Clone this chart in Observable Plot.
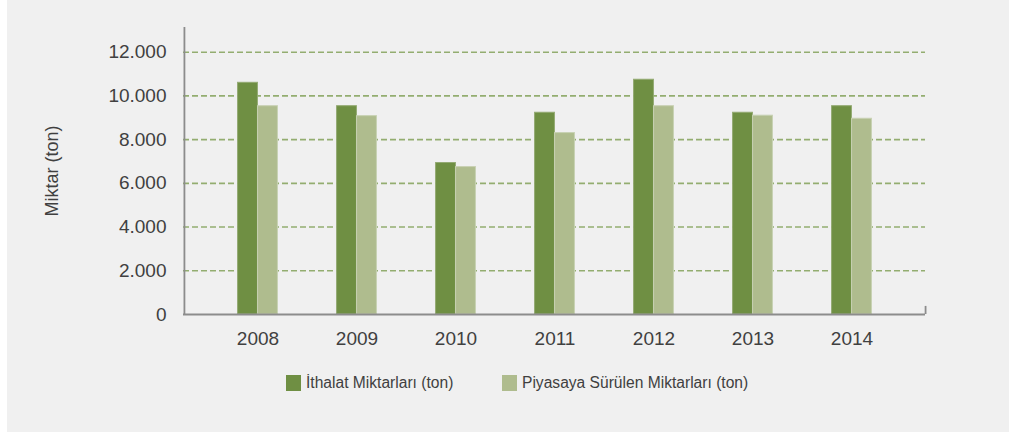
<!DOCTYPE html>
<html>
<head>
<meta charset="utf-8">
<script src="https://cdn.jsdelivr.net/npm/d3@7"></script>
<script src="https://cdn.jsdelivr.net/npm/@observablehq/plot@0.6"></script>
<style>
  html, body { margin: 0; padding: 0; background: #ffffff; }
  #panel { position: absolute; left: 7px; top: 0; width: 1002px; height: 432px; background: #f0f0f0; font-family: "Liberation Sans", Arial, sans-serif; }
  #chart { position: absolute; left: 0; top: 0; }
  .legend-item { position: absolute; top: 374px; display: flex; align-items: center; font-size: 15.6px; color: #404040; line-height: 18px; }
  .swatch { width: 15px; height: 16px; margin-right: 5px; }
</style>
</head>
<body>
<div id="panel">
  <div id="chart"></div>
  <div id="legend"></div>
</div>
<script>
// ---- data ----
const years = ["2008", "2009", "2010", "2011", "2012", "2013", "2014"];
const seriesNames = ["İthalat Miktarları (ton)", "Piyasaya Sürülen Miktarları (ton)"];
const ithalat = [10600, 9530, 6930, 9230, 10740, 9230, 9530];
const piyasaya = [9530, 9075, 6745, 8300, 9530, 9095, 8955];
const yTicks = [0, 2000, 4000, 6000, 8000, 10000, 12000];
const yLabel = "Miktar (ton)";

// ---- styles ----
const colors = ["#6f8f43", "#afbc8e"];
const edgeColors = ["#93aa72", "#c8d1b3"];
const W = 1002, H = 360;
const mL = 176, mR = 84, mT = 27, mB = 46;
const xInset = 24;
const step = (W - mL - mR - 2 * xInset) / years.length;
const barW = 20;

const rowsA = years.map((y, i) => ({year: y, value: ithalat[i]}));
const rowsB = years.map((y, i) => ({year: y, value: piyasaya[i]}));

const fmt = d => d3.format(",")(d).replace(/,/g, ".");

const plot = Plot.plot({
  width: W,
  height: H,
  marginLeft: mL,
  marginRight: mR,
  marginTop: mT,
  marginBottom: mB,
  style: {background: "transparent", color: "#404040", fontFamily: "'Liberation Sans', Arial, sans-serif"},
  x: {type: "band", domain: years, padding: 0, inset: xInset, axis: null},
  y: {domain: [0, 13130], axis: null},
  marks: [
    Plot.gridY(yTicks.filter(d => d > 0), {stroke: "#93ad70", strokeOpacity: 1, strokeWidth: 1.6, strokeDasharray: "6,3"}),
    Plot.barY(rowsA, {x: "year", y: "value", fill: colors[0], stroke: edgeColors[0], strokeWidth: 1,
      insetLeft: step / 2 - barW, insetRight: step / 2}),
    Plot.barY(rowsB, {x: "year", y: "value", fill: colors[1], stroke: edgeColors[1], strokeWidth: 1,
      insetLeft: step / 2, insetRight: step / 2 - barW}),
    Plot.ruleY([0], {stroke: "#8c8c8c", strokeWidth: 2}),
    Plot.ruleX([years[0]], {y1: 0, y2: 13130, stroke: "#8c8c8c", strokeWidth: 1.8, dx: -(step / 2 + xInset)}),
    Plot.ruleX([years[years.length - 1]], {y1: 0, y2: 370, stroke: "#8c8c8c", strokeWidth: 1.8, dx: step / 2 + xInset}),
    Plot.axisY(yTicks, {tickSize: 0, tickPadding: 17, tickFormat: fmt, fontSize: 19, label: null}),
    Plot.axisX(years, {tickSize: 0, tickPadding: 17, fontSize: 19, label: null}),
    Plot.text([yLabel], {frameAnchor: "left", textAnchor: "middle", lineAnchor: "middle", rotate: -90, dx: -131, fontSize: 18, fill: "#404040"})
  ]
});
document.getElementById("chart").appendChild(plot);

// ---- legend ----
const legendLeft = [279, 495];
const legend = document.getElementById("legend");
seriesNames.forEach((name, i) => {
  const item = document.createElement("div");
  item.className = "legend-item";
  item.style.left = legendLeft[i] + "px";
  const sw = document.createElement("span");
  sw.className = "swatch";
  sw.style.background = colors[i];
  const label = document.createElement("span");
  label.textContent = name;
  item.appendChild(sw);
  item.appendChild(label);
  legend.appendChild(item);
});
</script>
</body>
</html>
